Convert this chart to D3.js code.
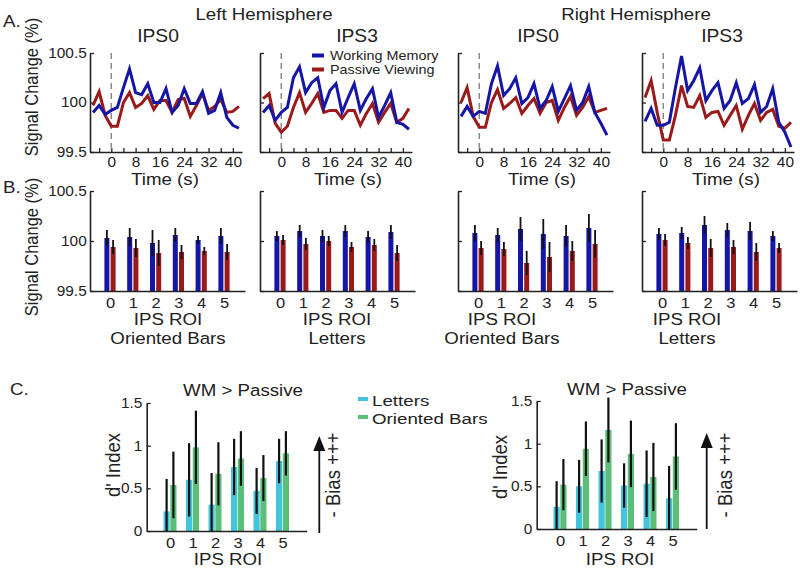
<!DOCTYPE html>
<html><head><meta charset="utf-8">
<script src="https://cdn.jsdelivr.net/npm/d3@7"></script>
<style>
body{margin:0;background:#fff}
svg{display:block;font-family:"Liberation Sans",Arial,Helvetica,sans-serif;fill:#222}
</style></head><body>
<svg id="chart" width="800" height="572"></svg>
<script>
// ---------- DATA ----------
const timePoints = [-6,-4,-2,0,2,4,6,8,10,12,14,16,18,20,22,24,26,28,30,32,34,36,38,40,42];
const timeTicks = [-4,0,4,8,12,16,20,24,28,32,36,40];
const timeTickLabels = [0,8,16,24,32,40];
const signalTicks = [99.5,100,100.5];

const wmLeftIPS0 = [99.90,99.97,99.88,99.92,99.95,100.15,100.34,100.10,100.08,100.19,100.00,100.00,100.14,99.90,99.97,100.14,99.99,99.99,100.11,99.89,99.92,100.10,99.85,99.77,99.74];
const pvLeftIPS0 = [99.97,100.11,99.87,99.76,99.76,100.00,100.10,99.95,99.99,100.07,99.93,100.02,100.02,99.90,100.03,100.04,99.86,99.97,100.09,99.92,99.96,100.03,99.90,99.91,99.96];
const wmLeftIPS3 = [99.90,99.97,99.82,99.90,99.95,100.25,100.36,100.10,100.20,100.25,99.95,100.12,100.19,99.90,100.05,100.19,99.92,100.04,100.14,99.85,99.97,100.10,99.80,99.78,99.73];
const pvLeftIPS3 = [100.04,100.09,99.79,99.70,99.76,99.95,100.10,99.90,99.99,100.09,99.90,99.92,99.92,99.84,99.92,99.92,99.77,99.89,99.99,99.80,99.90,99.99,99.80,99.84,99.94];
const wmRightIPS0 = [99.86,99.96,99.86,99.91,99.89,100.19,100.37,100.07,100.14,100.25,99.99,100.05,100.19,99.94,100.02,100.16,99.91,100.04,100.17,99.92,100.00,100.16,99.90,99.79,99.67];
const pvRightIPS0 = [100.00,100.15,99.86,99.75,99.75,100.00,100.13,99.94,99.99,100.05,99.89,99.97,100.04,99.89,100.00,100.02,99.82,99.95,100.06,99.87,99.95,100.06,99.90,99.92,99.94];
const wmRightIPS3 = [99.81,99.94,99.77,99.77,99.80,100.15,100.47,100.12,100.22,100.35,100.02,100.12,100.20,99.94,100.02,100.20,99.99,100.04,100.18,99.90,99.96,100.14,99.80,99.70,99.55];
const pvRightIPS3 = [100.05,100.22,99.90,99.62,99.62,99.87,100.17,99.96,99.95,100.07,99.85,99.90,99.91,99.77,99.87,99.97,99.73,99.87,99.99,99.82,99.90,99.93,99.76,99.74,99.80];

const roiLabels = [0,1,2,3,4,5];
const bWmLeftBars = [100.03,100.04,99.98,100.06,100.01,100.05];
const bWmLeftBarsErr = [0.08,0.09,0.13,0.07,0.04,0.08];
const bPvLeftBars = [99.94,99.93,99.88,99.89,99.90,99.89];
const bPvLeftBarsErr = [0.07,0.09,0.13,0.07,0.04,0.08];
const bWmLeftLetters = [100.05,100.10,100.05,100.10,100.04,100.09];
const bWmLeftLettersErr = [0.05,0.06,0.06,0.06,0.06,0.07];
const bPvLeftLetters = [100.01,99.97,100.00,99.94,99.96,99.88];
const bPvLeftLettersErr = [0.05,0.06,0.05,0.05,0.06,0.08];
const bWmRightBars = [100.08,100.06,100.12,100.07,100.05,100.13];
const bWmRightBarsErr = [0.08,0.07,0.12,0.15,0.11,0.14];
const bPvRightBars = [99.93,99.92,99.78,99.84,99.90,99.97];
const bPvRightBarsErr = [0.07,0.07,0.12,0.15,0.10,0.14];
const bWmRightLetters = [100.07,100.08,100.16,100.11,100.10,100.05];
const bWmRightLettersErr = [0.06,0.06,0.09,0.07,0.09,0.05];
const bPvRightLetters = [100.01,99.98,99.93,99.94,99.89,99.93];
const bPvRightLettersErr = [0.06,0.06,0.09,0.07,0.09,0.05];

const dTicks = [0,0.5,1,1.5];
const cLeftLetters = [0.23,0.60,0.31,0.75,0.47,0.82];
const cLeftLettersErr = [0.38,0.43,0.37,0.33,0.27,0.26];
const cLeftBars = [0.54,0.98,0.67,0.85,0.62,0.91];
const cLeftBarsErr = [0.39,0.43,0.37,0.32,0.27,0.26];
const cRightLetters = [0.26,0.50,0.68,0.51,0.53,0.36];
const cRightLettersErr = [0.30,0.31,0.37,0.26,0.39,0.38];
const cRightBars = [0.52,0.94,1.16,0.88,0.61,0.85];
const cRightBarsErr = [0.30,0.32,0.38,0.39,0.40,0.39];

// ---------- STYLE ----------
const BLUE = "#1515a6", RED = "#9a1a1a", CYAN = "#42c4dc", GREEN = "#5cbf78";
const SX = 1.1; // horizontal text stretch
const svg = d3.select("#chart");

function htext(x, y, s, size, anchor, sx) {
  return svg.append("text")
    .attr("transform", `translate(${x},${y}) scale(${sx || SX},1)`)
    .attr("text-anchor", anchor || "middle")
    .style("font-size", size + "px").style("fill", "#222").text(s);
}
function vtext(x, y, s, size) {
  return svg.append("text")
    .attr("transform", `translate(${x},${y}) rotate(-90) scale(1,${SX})`)
    .attr("text-anchor", "middle")
    .style("font-size", size + "px").style("fill", "#222").text(s);
}
function styleAxis(g, size) {
  g.select(".domain").attr("stroke", "#222").attr("stroke-width", 1.6);
  g.selectAll(".tick line").attr("stroke", "#222").attr("stroke-width", 1.3);
  g.selectAll(".tick text").style("font-size", size + "px").style("fill", "#222")
    .attr("transform", `scale(${SX},1)`);
  g.style("font-family", null);
}

// ---------- PANEL A ----------
function drawA(x0, wm, pv, showY) {
  const x = d3.scaleLinear().domain([-7, 43]).range([x0, x0 + 152]);
  const y = d3.scaleLinear().domain([99.5, 100.5]).range([152, 53]);
  const gx = svg.append("g").attr("transform", `translate(0,${y(99.5)})`)
    .call(d3.axisBottom(x).tickValues(timeTicks).tickSize(-4).tickSizeOuter(0).tickPadding(5)
      .tickFormat(d => timeTickLabels.includes(d) ? String(d) : ""));
  styleAxis(gx, 14);
  const gy = svg.append("g").attr("transform", `translate(${x0},0)`)
    .call(d3.axisLeft(y).tickValues(signalTicks).tickSize(-4).tickSizeOuter(0).tickPadding(3)
      .tickFormat(d => showY ? String(d) : ""));
  styleAxis(gy, 14);
  svg.append("line").attr("x1", x(0)).attr("x2", x(0)).attr("y1", y(100.5)).attr("y2", y(99.5))
    .attr("stroke", "#888").attr("stroke-width", 1.5).attr("stroke-dasharray", "6,4");
  const line = d3.line().x((d, i) => x(timePoints[i])).y(d => y(d));
  svg.append("path").datum(pv).attr("d", line).attr("fill", "none").attr("stroke", RED)
    .attr("stroke-width", 3).attr("stroke-linejoin", "miter");
  svg.append("path").datum(wm).attr("d", line).attr("fill", "none").attr("stroke", BLUE)
    .attr("stroke-width", 3).attr("stroke-linejoin", "miter");
}
drawA(90, wmLeftIPS0, pvLeftIPS0, true);
drawA(260, wmLeftIPS3, pvLeftIPS3, false);
drawA(458, wmRightIPS0, pvRightIPS0, false);
drawA(642, wmRightIPS3, pvRightIPS3, false);

// ---------- PANEL B ----------
function drawB(x0, wm, wmErr, pv, pvErr, showY) {
  const x = d3.scaleLinear().domain([-20 / 22.8, 135 / 22.8]).range([x0, x0 + 155]);
  const y = d3.scaleLinear().domain([99.5, 100.5]).range([291, 191]);
  const bw = 5;
  roiLabels.forEach((r, i) => {
    const c = x(r);
    svg.append("rect").attr("x", c - bw - 0.6).attr("width", bw).attr("y", y(wm[i]))
      .attr("height", y(99.5) - y(wm[i])).attr("fill", BLUE);
    svg.append("rect").attr("x", c + 0.6).attr("width", bw).attr("y", y(pv[i]))
      .attr("height", y(99.5) - y(pv[i])).attr("fill", RED);
    svg.append("line").attr("x1", c - bw / 2 - 0.6).attr("x2", c - bw / 2 - 0.6)
      .attr("y1", y(wm[i] + wmErr[i])).attr("y2", y(wm[i] - wmErr[i]))
      .attr("stroke", "#111").attr("stroke-width", 1.8);
    svg.append("line").attr("x1", c + bw / 2 + 0.6).attr("x2", c + bw / 2 + 0.6)
      .attr("y1", y(pv[i] + pvErr[i])).attr("y2", y(pv[i] - pvErr[i]))
      .attr("stroke", "#111").attr("stroke-width", 1.8);
  });
  const gx = svg.append("g").attr("transform", `translate(0,${y(99.5)})`)
    .call(d3.axisBottom(x).tickValues(roiLabels).tickSize(0).tickSizeOuter(0).tickPadding(6)
      .tickFormat(d => String(d)));
  styleAxis(gx, 15);
  const gy = svg.append("g").attr("transform", `translate(${x0},0)`)
    .call(d3.axisLeft(y).tickValues(signalTicks).tickSize(-4).tickSizeOuter(0).tickPadding(3)
      .tickFormat(d => showY ? String(d) : ""));
  styleAxis(gy, 14);
}
drawB(90, bWmLeftBars, bWmLeftBarsErr, bPvLeftBars, bPvLeftBarsErr, true);
drawB(260, bWmLeftLetters, bWmLeftLettersErr, bPvLeftLetters, bPvLeftLettersErr, false);
drawB(458, bWmRightBars, bWmRightBarsErr, bPvRightBars, bPvRightBarsErr, false);
drawB(642, bWmRightLetters, bWmRightLettersErr, bPvRightLetters, bPvRightLettersErr, false);

// ---------- PANEL C ----------
function drawC(x0, y0, y15, let_, letErr, bars, barsErr) {
  const x = d3.scaleLinear().domain([-23.3 / 22.5, (160 - 23.3) / 22.5]).range([x0, x0 + 160]);
  const y = d3.scaleLinear().domain([0, 1.5]).range([y0, y15]);
  const bw = 6.2;
  roiLabels.forEach((r, i) => {
    const c = x(r);
    svg.append("rect").attr("x", c - bw - 0.3).attr("width", bw).attr("y", y(let_[i]))
      .attr("height", y(0) - y(let_[i])).attr("fill", CYAN);
    svg.append("rect").attr("x", c + 0.3).attr("width", bw).attr("y", y(bars[i]))
      .attr("height", y(0) - y(bars[i])).attr("fill", GREEN);
    svg.append("line").attr("x1", c - bw / 2 - 0.3).attr("x2", c - bw / 2 - 0.3)
      .attr("y1", y(let_[i] + letErr[i])).attr("y2", y(Math.max(0, let_[i] - letErr[i])))
      .attr("stroke", "#111").attr("stroke-width", 2.2);
    svg.append("line").attr("x1", c + bw / 2 + 0.3).attr("x2", c + bw / 2 + 0.3)
      .attr("y1", y(bars[i] + barsErr[i])).attr("y2", y(Math.max(0, bars[i] - barsErr[i])))
      .attr("stroke", "#111").attr("stroke-width", 2.2);
  });
  const gx = svg.append("g").attr("transform", `translate(0,${y(0)})`)
    .call(d3.axisBottom(x).tickValues(roiLabels).tickSize(0).tickSizeOuter(0).tickPadding(6)
      .tickFormat(d => String(d)));
  styleAxis(gx, 15);
  const gy = svg.append("g").attr("transform", `translate(${x0},0)`)
    .call(d3.axisLeft(y).tickValues(dTicks).tickSize(-4).tickSizeOuter(0).tickPadding(4)
      .tickFormat(d => String(d)));
  styleAxis(gy, 14);
}
drawC(146.7, 531, 403, cLeftLetters, cLeftLettersErr, cLeftBars, cLeftBarsErr);
drawC(536.7, 529, 401, cRightLetters, cRightLettersErr, cRightBars, cRightBarsErr);

// arrows
function arrow(ax, yb, yt) {
  svg.append("line").attr("x1", ax).attr("x2", ax).attr("y1", yb).attr("y2", yt + 10)
    .attr("stroke", "#111").attr("stroke-width", 1.8);
  svg.append("path").attr("d", `M${ax - 6},${yt + 15} L${ax},${yt} L${ax + 6},${yt + 15} Z`).attr("fill", "#111");
}
arrow(319.3, 533, 436);
arrow(706.7, 529, 433);

// ---------- TEXT ----------
htext(3, 27, "A.", 17, "start");
htext(3, 193, "B.", 17, "start");
htext(10, 395, "C.", 17, "start");
htext(264, 20, "Left Hemisphere", 17);
htext(636, 20, "Right Hemisphere", 17);
htext(158, 42, "IPS0", 17.5);
htext(357, 42, "IPS3", 17.5);
htext(538, 42, "IPS0", 17.5);
htext(722, 42, "IPS3", 17.5);
[165, 348, 542, 726].forEach(cx => htext(cx, 185, "Time (s)", 17));
vtext(38, 87, "Signal Change (%)", 16.5);
vtext(38, 247, "Signal Change (%)", 16.5);

// legend A
[[BLUE, "Working Memory", 55.5, 60], [RED, "Passive Viewing", 69.5, 74]].forEach(([c, s, ly, ty]) => {
  svg.append("line").attr("x1", 312).attr("x2", 324).attr("y1", ly).attr("y2", ly)
    .attr("stroke", c).attr("stroke-width", 4);
  htext(330, ty, s, 12.5, "start", 1.15);
});

[[168, "Oriented Bars"], [337, "Letters"], [502, "Oriented Bars"], [687, "Letters"]].forEach(([cx, s]) => {
  htext(cx, 325, "IPS ROI", 17);
  htext(cx, 344, s, 17);
});

htext(243, 396, "WM > Passive", 17);
htext(627, 395, "WM > Passive", 17);
htext(228, 565, "IPS ROI", 17);
htext(620, 565, "IPS ROI", 17);
vtext(120, 465, "d' Index", 18.5);
vtext(507, 467, "d' Index", 18.5);
vtext(340, 475, "- Bias +++", 18.5);
vtext(732, 475, "- Bias +++", 18.5);

// legend C
[[CYAN, "Letters", 399, 405.5], [GREEN, "Oriented Bars", 417, 423.5]].forEach(([c, s, ly, ty]) => {
  svg.append("line").attr("x1", 358).attr("x2", 368).attr("y1", ly).attr("y2", ly)
    .attr("stroke", c).attr("stroke-width", 4);
  htext(372, ty, s, 15, "start", 1.25);
});
</script>
</body></html>
